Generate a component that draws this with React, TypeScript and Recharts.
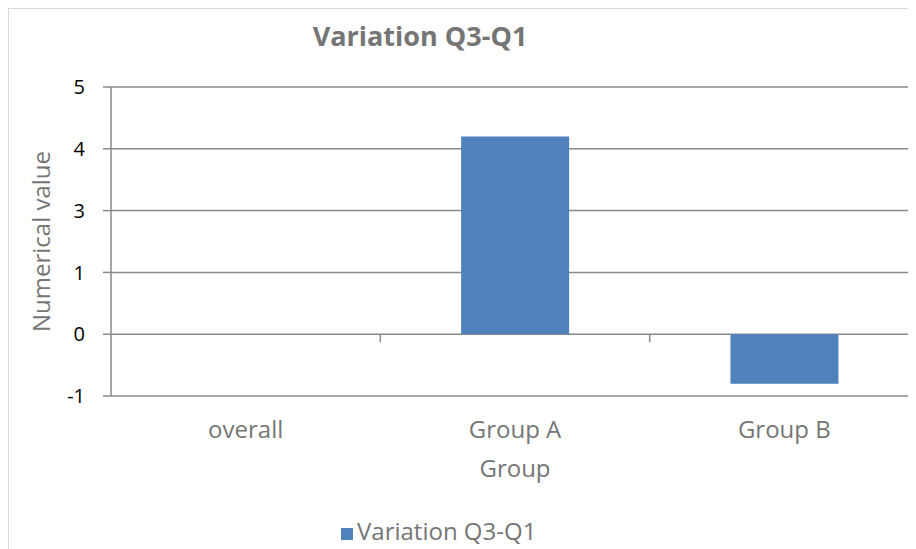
import { BarChart, Bar, XAxis, YAxis, CartesianGrid, Legend, ReferenceLine } from "recharts";

const groups = ["overall", "Group A", "Group B"];
const variation = [0, 4, -1];
// axis is formatted with no decimals, so the 1.25 steps show as 5, 4, 3, 1, 0, -1
const yTicks = [-1.25, 0, 1.25, 2.5, 3.75, 5];
// category boundaries on the 0..3 helper scale
const boundaries = [1, 2];

const data = groups.map((g, i) => ({ group: g, value: variation[i] }));

const AXIS = "#8a8a8a";
const TEXT = "#767676";
const FONT = "'Open Sans', sans-serif";

const BoundaryTick = (props: any) => {
  const { x1, y1 } = props;
  return <line x1={x1} y1={y1} x2={x1} y2={y1 + 8} stroke={AXIS} strokeWidth={1.5} />;
};

export default function App() {
  return (
    <div
      style={{
        position: "relative",
        width: 908,
        height: 541,
        overflow: "hidden",
        fontFamily: FONT,
        borderLeft: "1px solid #d9d9d9",
        borderTop: "1px solid #d9d9d9",
        boxSizing: "border-box",
      }}
    >
      <div
        style={{
          position: "absolute",
          left: 211,
          top: 8,
          width: 400,
          textAlign: "center",
          fontSize: 27,
          fontWeight: 700,
          color: "#757575",
          lineHeight: "37px",
        }}
      >
        Variation Q3-Q1
      </div>
      <BarChart
        width={920}
        height={560}
        data={data}
        margin={{ top: 78, right: 10, bottom: 116, left: 0 }}
        barCategoryGap="30%"
        style={{ position: "absolute", left: 0, top: 0 }}
      >
        <CartesianGrid vertical={false} stroke={AXIS} strokeWidth={1.5} />
        <XAxis
          dataKey="group"
          axisLine={false}
          tickLine={false}
          tickSize={0}
          tickMargin={25}
          height={57}
          tick={{ fill: TEXT, fontSize: 24, fontFamily: FONT }}
          label={{ value: "Group", position: "bottom", offset: 7, fill: TEXT, fontSize: 24, fontFamily: FONT }}
        />
        {/* helper scale spanning the three category bands, used for the boundary tick marks */}
        <XAxis xAxisId="edge" dataKey="value" type="number" domain={[0, 3]} allowDataOverflow hide />
        <YAxis
          width={102}
          domain={[-1.25, 5]}
          ticks={yTicks}
          interval={0}
          tickFormatter={(v: number) => String(Math.round(v))}
          axisLine={{ stroke: AXIS, strokeWidth: 1.5 }}
          tickLine={{ stroke: AXIS, strokeWidth: 1.5 }}
          tickSize={8}
          tickMargin={18}
          tick={{ fill: "#000", fontSize: 20, fontFamily: FONT }}
          label={{
            value: "Numerical value",
            content: ({ viewBox }: any) => {
              const x = viewBox.x + 41;
              const y = viewBox.y + viewBox.height / 2;
              return (
                <text x={x} y={y} transform={`rotate(-90, ${x}, ${y})`} textAnchor="middle" fill={TEXT} fontSize={24} fontFamily={FONT}>
                  Numerical value
                </text>
              );
            },
          }}
        />
        {boundaries.map((b) => (
          <ReferenceLine
            key={b}
            xAxisId="edge"
            segment={[{ x: b, y: 0 }, { x: b, y: 0 }]}
            shape={BoundaryTick}
          />
        ))}
        <Legend
          layout="horizontal"
          verticalAlign="middle"
          align="center"
          iconType="square"
          iconSize={12}
          wrapperStyle={{ left: 332, top: 505, width: "auto", fontSize: 24, fontFamily: FONT }}
          formatter={(v: string) => <span style={{ color: TEXT }}>{v}</span>}
        />
        <Bar dataKey="value" name="Variation Q3-Q1" fill="#4f81bd" isAnimationActive={false} />
      </BarChart>
    </div>
  );
}
